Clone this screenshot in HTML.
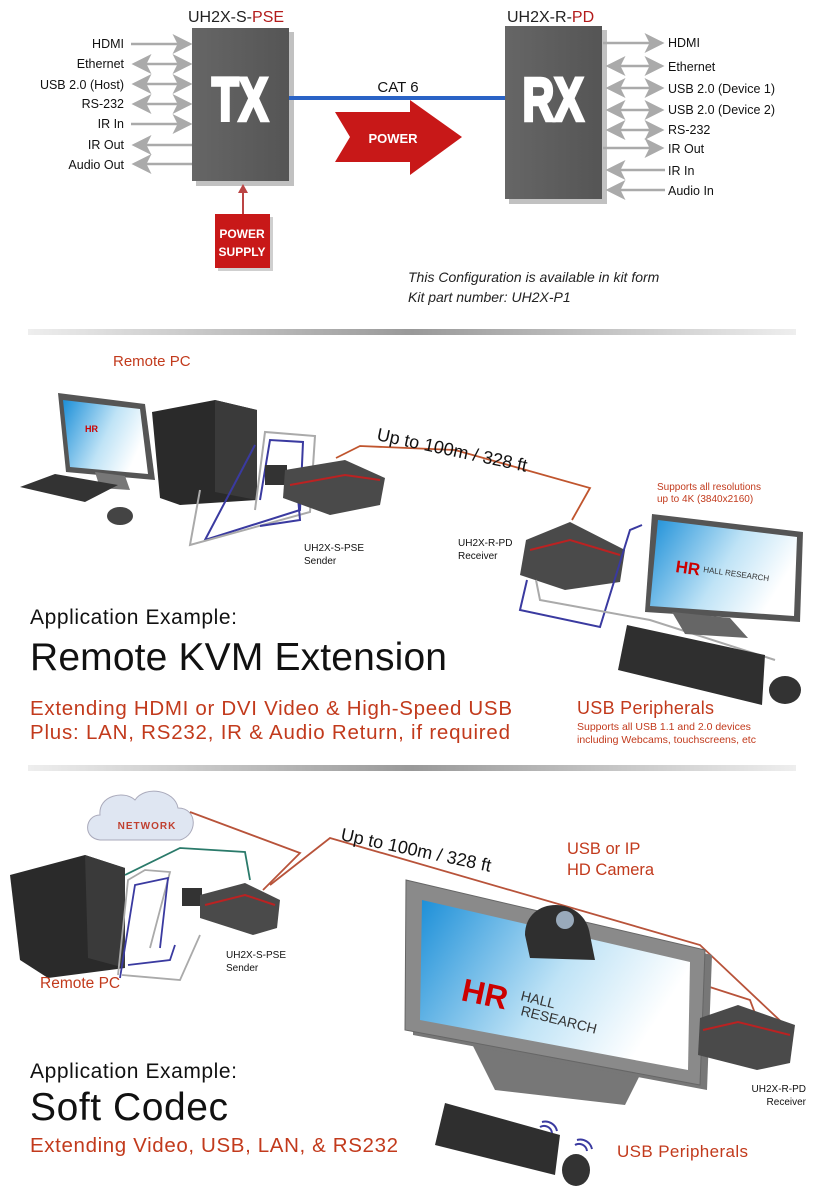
<!DOCTYPE html>
<html><head><meta charset="utf-8"><style>
html,body{margin:0;padding:0;background:#fff;}
svg{display:block;}
text{font-family:"Liberation Sans",sans-serif;}
</style></head><body>
<svg width="816" height="1200" viewBox="0 0 816 1200" xmlns="http://www.w3.org/2000/svg">
<defs>
<linearGradient id="div" x1="0" x2="1"><stop offset="0" stop-color="#eee"/><stop offset=".5" stop-color="#999"/><stop offset="1" stop-color="#eee"/></linearGradient>
<linearGradient id="scr" x1="0" x2="1" y1="0" y2="0.4"><stop offset="0" stop-color="#1c8fd8"/><stop offset=".6" stop-color="#bfe3f6"/><stop offset="1" stop-color="#fff"/></linearGradient>
<linearGradient id="box" x1="0" x2="1"><stop offset="0" stop-color="#666"/><stop offset="1" stop-color="#555"/></linearGradient>
<marker id="ah" markerWidth="8" markerHeight="8" refX="7" refY="4" orient="auto"><path d="M0,0 L8,4 L0,8 L2,4z" fill="#aaa"/></marker>
<marker id="at" markerWidth="8" markerHeight="8" refX="1" refY="4" orient="auto"><path d="M8,0 L0,4 L8,8 L6,4z" fill="#aaa"/></marker>
</defs>

<!-- TOP -->
<text x="188" y="22" font-size="16" fill="#222">UH2X-S-<tspan fill="#b31b1b">PSE</tspan></text>
<text x="507" y="22" font-size="16" fill="#222">UH2X-R-<tspan fill="#b31b1b">PD</tspan></text>
<rect x="196" y="32" width="98" height="154" fill="#333" opacity=".3"/>
<rect x="192" y="28" width="97" height="153" fill="url(#box)"/>
<text x="240" y="86" font-size="44" font-weight="bold" fill="#fff" stroke="#fff" stroke-width="2.5" text-anchor="middle" transform="scale(1,1.4)">TX</text>
<rect x="509" y="30" width="98" height="174" fill="#333" opacity=".3"/>
<rect x="505" y="26" width="97" height="173" fill="url(#box)"/>
<text x="553" y="86" font-size="44" font-weight="bold" fill="#fff" stroke="#fff" stroke-width="2.5" text-anchor="middle" transform="scale(1,1.4)">RX</text>
<line x1="289" y1="98" x2="505" y2="98" stroke="#2a63c6" stroke-width="4"/>
<text x="398" y="92" font-size="15" fill="#111" text-anchor="middle">CAT 6</text>
<path d="M335,112 L410,112 L410,100 L462,137 L410,175 L410,162 L335,162 L350,137z" fill="#c81818"/>
<text x="393" y="143" font-size="13" font-weight="bold" fill="#fff" text-anchor="middle">POWER</text>
<line x1="243" y1="186" x2="243" y2="215" stroke="#b44" stroke-width="2"/>
<path d="M238,193 L243,184 L248,193z" fill="#b44"/>
<rect x="218" y="217" width="55" height="54" fill="#888" opacity=".4"/>
<rect x="215" y="214" width="55" height="54" fill="#c81818"/>
<text x="242" y="238" font-size="12" font-weight="bold" fill="#fff" text-anchor="middle">POWER</text>
<text x="242" y="256" font-size="12" font-weight="bold" fill="#fff" text-anchor="middle">SUPPLY</text>
<g font-size="12.5" fill="#111" text-anchor="end">
<text x="124" y="48">HDMI</text><text x="124" y="68">Ethernet</text><text x="124" y="89">USB 2.0 (Host)</text><text x="124" y="108">RS-232</text><text x="124" y="128">IR In</text><text x="124" y="149">IR Out</text><text x="124" y="169">Audio Out</text>
</g>
<g stroke="#aaa" stroke-width="2.5">
<line x1="131" y1="44" x2="190" y2="44" marker-end="url(#ah)"/>
<line x1="134" y1="64" x2="190" y2="64" marker-end="url(#ah)" marker-start="url(#at)"/>
<line x1="134" y1="84" x2="190" y2="84" marker-end="url(#ah)" marker-start="url(#at)"/>
<line x1="134" y1="104" x2="190" y2="104" marker-end="url(#ah)" marker-start="url(#at)"/>
<line x1="131" y1="124" x2="190" y2="124" marker-end="url(#ah)"/>
<line x1="134" y1="145" x2="192" y2="145" marker-start="url(#at)"/>
<line x1="134" y1="164" x2="192" y2="164" marker-start="url(#at)"/>
<line x1="603" y1="43" x2="662" y2="43" marker-end="url(#ah)"/>
<line x1="608" y1="66" x2="662" y2="66" marker-end="url(#ah)" marker-start="url(#at)"/>
<line x1="608" y1="88" x2="662" y2="88" marker-end="url(#ah)" marker-start="url(#at)"/>
<line x1="608" y1="110" x2="662" y2="110" marker-end="url(#ah)" marker-start="url(#at)"/>
<line x1="608" y1="130" x2="662" y2="130" marker-end="url(#ah)" marker-start="url(#at)"/>
<line x1="603" y1="148" x2="662" y2="148" marker-end="url(#ah)"/>
<line x1="608" y1="170" x2="665" y2="170" marker-start="url(#at)"/>
<line x1="608" y1="190" x2="665" y2="190" marker-start="url(#at)"/>
</g>
<g font-size="12.5" fill="#111">
<text x="668" y="47">HDMI</text><text x="668" y="71">Ethernet</text><text x="668" y="93">USB 2.0 (Device 1)</text><text x="668" y="114">USB 2.0 (Device 2)</text><text x="668" y="134">RS-232</text><text x="668" y="153">IR Out</text><text x="668" y="175">IR In</text><text x="668" y="195">Audio In</text>
</g>
<text x="408" y="282" font-size="14" font-style="italic" fill="#222">This Configuration is available in kit form</text>
<text x="408" y="302" font-size="14" font-style="italic" fill="#222">Kit part number: UH2X-P1</text>

<rect x="28" y="329" width="768" height="6" fill="url(#div)"/>

<!-- MIDDLE -->
<text x="113" y="366" font-size="15" fill="#c23a1c">Remote PC</text>
<path d="M58,393 L145,404 L155,480 L66,472z" fill="#555"/>
<path d="M63,400 L140,409 L148,474 L70,467z" fill="url(#scr)"/>
<text x="85" y="432" font-size="9" font-weight="bold" fill="#c00">HR</text>
<path d="M95,472 L125,476 L130,490 L100,488z" fill="#777"/>
<path d="M152,412 L215,400 L257,410 L257,500 L180,505 L160,498z" fill="#2a2a2a"/>
<path d="M215,400 L257,410 L257,500 L215,492z" fill="#3a3a3a"/>
<path d="M20,487 L55,474 L118,485 L85,502z" fill="#333"/>
<ellipse cx="120" cy="516" rx="13" ry="9" fill="#444"/>
<g fill="none" stroke-width="2">
<path d="M260,500 L270,440 L303,442 L300,510 L205,540 L255,445" stroke="#3a3aa0"/>
<path d="M255,510 L265,432 L315,436 L310,512 L190,545 L200,490" stroke="#aaa"/>
<path d="M297,486 L300,520 L260,526" stroke="#3a3aa0"/>
</g>
<rect x="265" y="465" width="22" height="20" fill="#333"/>
<path d="M285,470 L345,460 L385,478 L380,505 L330,515 L283,498z" fill="#4a4a4a"/>
<path d="M290,485 L345,475 L380,480" stroke="#b22" stroke-width="2" fill="none"/>
<path d="M336,458 L360,446 L455,450 L590,488 L572,520" fill="none" stroke="#c0552e" stroke-width="1.8"/>
<text transform="translate(376,440) rotate(12)" font-size="18" fill="#111">Up to 100m / 328 ft</text>
<text x="304" y="551" font-size="10" fill="#111">UH2X-S-PSE</text>
<text x="304" y="564" font-size="10" fill="#111">Sender</text>
<text x="458" y="546" font-size="10" fill="#111">UH2X-R-PD</text>
<text x="458" y="559" font-size="10" fill="#111">Receiver</text>
<path d="M526,540 L570,522 L625,550 L620,582 L565,590 L520,575z" fill="#4a4a4a"/>
<path d="M530,550 L570,540 L620,555" stroke="#b22" stroke-width="2" fill="none"/>
<g fill="none" stroke-width="2">
<path d="M527,580 L520,610 L600,627 L630,530 L642,525" stroke="#3a3aa0"/>
<path d="M536,580 L540,600 L650,620 L775,660" stroke="#aaa"/>
</g>
<text x="657" y="490" font-size="10" fill="#c23a1c">Supports all resolutions</text>
<text x="657" y="502" font-size="10" fill="#c23a1c">up to 4K (3840x2160)</text>
<path d="M652,514 L803,532 L800,622 L645,612z" fill="#555"/>
<path d="M658,520 L797,537 L794,616 L650,606z" fill="url(#scr)"/>
<text x="675" y="572" font-size="17" font-weight="bold" fill="#c00" transform="rotate(8 675 572)">HR</text>
<text x="703" y="572" font-size="8" fill="#333" transform="rotate(8 703 572)">HALL RESEARCH</text>
<path d="M672,612 L730,618 L748,638 L685,634z" fill="#666"/>
<path d="M627,625 L765,655 L762,705 L618,670z" fill="#2f2f2f"/>
<ellipse cx="785" cy="690" rx="16" ry="14" fill="#333"/>
<text x="30" y="624" font-size="21" fill="#111" textLength="207">Application Example:</text>
<text x="30" y="670" font-size="39" fill="#111" textLength="417">Remote KVM Extension</text>
<text x="30" y="715" font-size="20.5" fill="#c23a1c" textLength="482">Extending HDMI or DVI Video &amp; High-Speed USB</text>
<text x="30" y="739" font-size="20.5" fill="#c23a1c" textLength="480">Plus: LAN, RS232, IR &amp; Audio Return, if required</text>
<text x="577" y="714" font-size="18" fill="#c23a1c" textLength="137">USB Peripherals</text>
<text x="577" y="730" font-size="10.5" fill="#c23a1c">Supports all USB 1.1 and 2.0 devices</text>
<text x="577" y="743" font-size="10.5" fill="#c23a1c">including Webcams, touchscreens, etc</text>

<rect x="28" y="765" width="768" height="6" fill="url(#div)"/>

<!-- BOTTOM -->
<path d="M100,840 C82,838 85,815 100,815 C98,795 125,790 135,800 C145,785 175,790 178,808 C198,808 198,835 180,840z" fill="#dfe6f2" stroke="#aab" stroke-width="1"/>
<text x="147" y="829" font-size="10" font-weight="bold" fill="#c04030" text-anchor="middle" letter-spacing="1">NETWORK</text>
<path d="M10,875 L85,855 L125,868 L125,968 L48,978 L20,960z" fill="#2a2a2a"/>
<path d="M85,855 L125,868 L125,968 L88,958z" fill="#3a3a3a"/>
<g fill="none" stroke-width="1.8">
<path d="M122,975 L180,980 L200,935" stroke="#aaa"/>
<path d="M128,965 L170,960 L175,945" stroke="#3a3aa0"/>
<path d="M118,975 L128,880 L145,870 L170,872 L150,948" stroke="#aaa"/>
<path d="M120,978 L135,885 L168,878 L160,948" stroke="#3a3aa0"/>
<path d="M125,875 L180,848 L245,852 L250,880" stroke="#2a7a6a"/>
<path d="M190,812 L300,853 L263,890" stroke="#b8533a"/>
<path d="M270,885 L330,838 L700,945 L790,1030 L785,1040" stroke="#b8533a"/>
<path d="M595,950 L750,1000 L765,1040" stroke="#b8533a"/>
<path d="M690,1075 L680,1070 L720,1040 L730,1060" stroke="#2a7a6a"/>
</g>
<rect x="182" y="888" width="20" height="18" fill="#333"/>
<path d="M200,895 L245,883 L280,900 L277,928 L253,935 L200,918z" fill="#4a4a4a"/>
<path d="M205,905 L245,895 L275,905" stroke="#b22" stroke-width="2" fill="none"/>
<text transform="translate(340,840) rotate(12)" font-size="18" fill="#111">Up to 100m / 328 ft</text>
<text x="567" y="854" font-size="16.5" fill="#c23a1c">USB  or  IP</text>
<text x="567" y="875" font-size="16.5" fill="#c23a1c">HD Camera</text>
<text x="226" y="958" font-size="10" fill="#111">UH2X-S-PSE</text>
<text x="226" y="971" font-size="10" fill="#111">Sender</text>
<text x="40" y="988" font-size="15.5" fill="#c23a1c">Remote PC</text>
<path d="M470,1040 L640,1075 L625,1105 L495,1090z" fill="#777"/>
<path d="M413,885 L712,955 L707,1090 L413,1035z" fill="#777"/>
<path d="M406,880 L705,950 L700,1085 L405,1030z" fill="#8a8a8a" stroke="#666"/>
<path d="M422,900 L690,962 L688,1070 L420,1020z" fill="url(#scr)"/>
<text x="460" y="1000" font-size="32" font-weight="bold" fill="#c00" transform="rotate(12 460 1000)">HR</text>
<text x="520" y="1000" font-size="14" fill="#333" transform="rotate(14 520 1000)">HALL</text>
<text x="520" y="1015" font-size="14" fill="#333" transform="rotate(14 520 1015)">RESEARCH</text>
<path d="M525,935 C525,895 585,895 590,935 L595,960 L530,958z" fill="#2f2f2f"/>
<circle cx="565" cy="920" r="9" fill="#9ab"/>
<path d="M700,1018 L738,1005 L795,1025 L790,1063 L757,1070 L698,1055z" fill="#4a4a4a"/>
<path d="M703,1030 L738,1022 L790,1035" stroke="#b22" stroke-width="2" fill="none"/>
<text x="806" y="1092" font-size="10" fill="#111" text-anchor="end">UH2X-R-PD</text>
<text x="806" y="1105" font-size="10" fill="#111" text-anchor="end">Receiver</text>
<path d="M445,1103 L560,1135 L555,1175 L435,1145z" fill="#2f2f2f"/>
<ellipse cx="576" cy="1170" rx="14" ry="16" fill="#333"/>
<path d="M540,1127 a8,8 0 0 1 12,6 M542,1122 a12,12 0 0 1 15,9" stroke="#3a3aa0" stroke-width="2" fill="none"/>
<path d="M575,1145 a8,8 0 0 1 12,6 M577,1140 a12,12 0 0 1 15,9" stroke="#3a3aa0" stroke-width="2" fill="none"/>
<text x="30" y="1078" font-size="21" fill="#111" textLength="207">Application Example:</text>
<text x="30" y="1120" font-size="39" fill="#111" textLength="198">Soft Codec</text>
<text x="30" y="1152" font-size="20.5" fill="#c23a1c" textLength="368">Extending Video, USB, LAN, &amp; RS232</text>
<text x="617" y="1157" font-size="17" fill="#c23a1c" textLength="131">USB Peripherals</text>
</svg>
</body></html>
